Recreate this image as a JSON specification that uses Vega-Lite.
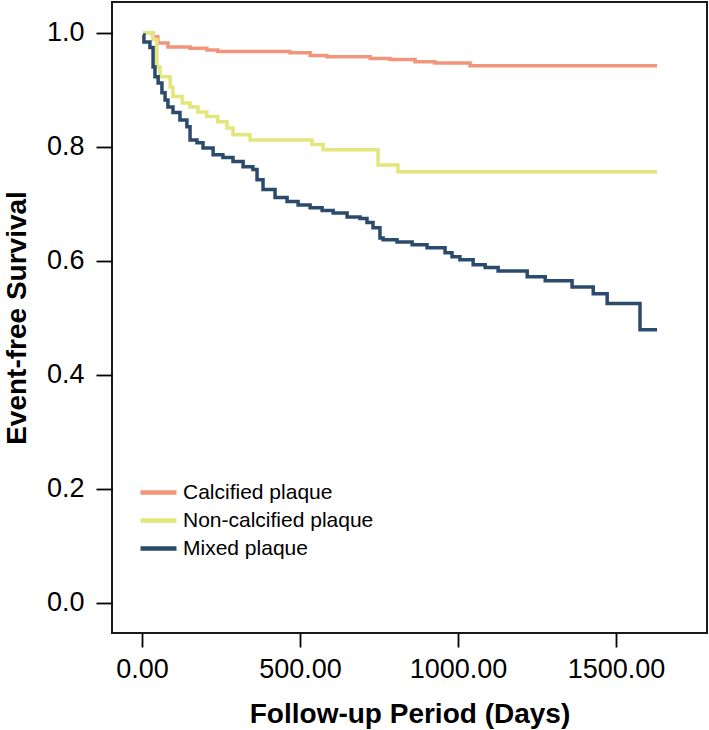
{
  "$schema": "https://vega.github.io/schema/vega-lite/v6.json",
  "width": 595,
  "height": 631,
  "autosize": "none",
  "padding": {"left": 112, "top": 2, "right": 2, "bottom": 97},
  "background": "white",
  "config": {
    "view": {"stroke": "#1a1a1a", "strokeWidth": 2},
    "font": "Liberation Sans",
    "axis": {
      "domain": false,
      "grid": false,
      "tickColor": "#000000",
      "tickWidth": 1.8,
      "labelFont": "Liberation Sans",
      "labelFontSize": 27,
      "labelColor": "#000000",
      "titleFont": "Liberation Sans",
      "titleFontSize": 28,
      "titleFontWeight": "bold",
      "titleColor": "#000000"
    },
    "legend": {
      "labelFont": "Liberation Sans",
      "labelFontSize": 21,
      "labelColor": "#000000",
      "labelLimit": 400
    }
  },
  "data": {
    "values": [
      {"group": "Calcified plaque", "days": 3, "surv": 1.0},
      {"group": "Calcified plaque", "days": 35, "surv": 0.993},
      {"group": "Calcified plaque", "days": 50, "surv": 0.982},
      {"group": "Calcified plaque", "days": 82, "surv": 0.975},
      {"group": "Calcified plaque", "days": 152, "surv": 0.973},
      {"group": "Calcified plaque", "days": 205, "surv": 0.970},
      {"group": "Calcified plaque", "days": 240, "surv": 0.967},
      {"group": "Calcified plaque", "days": 468, "surv": 0.965},
      {"group": "Calcified plaque", "days": 532, "surv": 0.960},
      {"group": "Calcified plaque", "days": 585, "surv": 0.958},
      {"group": "Calcified plaque", "days": 722, "surv": 0.955},
      {"group": "Calcified plaque", "days": 785, "surv": 0.953},
      {"group": "Calcified plaque", "days": 864, "surv": 0.949},
      {"group": "Calcified plaque", "days": 927, "surv": 0.947},
      {"group": "Calcified plaque", "days": 1038, "surv": 0.942},
      {"group": "Calcified plaque", "days": 1630, "surv": 0.942},

      {"group": "Non-calcified plaque", "days": 3, "surv": 1.0},
      {"group": "Non-calcified plaque", "days": 35, "surv": 0.988},
      {"group": "Non-calcified plaque", "days": 47, "surv": 0.940},
      {"group": "Non-calcified plaque", "days": 57, "surv": 0.923},
      {"group": "Non-calcified plaque", "days": 89, "surv": 0.905},
      {"group": "Non-calcified plaque", "days": 98, "surv": 0.888},
      {"group": "Non-calcified plaque", "days": 127, "surv": 0.877},
      {"group": "Non-calcified plaque", "days": 152, "surv": 0.870},
      {"group": "Non-calcified plaque", "days": 177, "surv": 0.861},
      {"group": "Non-calcified plaque", "days": 205, "surv": 0.853},
      {"group": "Non-calcified plaque", "days": 240, "surv": 0.844},
      {"group": "Non-calcified plaque", "days": 269, "surv": 0.833},
      {"group": "Non-calcified plaque", "days": 288, "surv": 0.821},
      {"group": "Non-calcified plaque", "days": 342, "surv": 0.812},
      {"group": "Non-calcified plaque", "days": 538, "surv": 0.804},
      {"group": "Non-calcified plaque", "days": 573, "surv": 0.795},
      {"group": "Non-calcified plaque", "days": 747, "surv": 0.768},
      {"group": "Non-calcified plaque", "days": 810, "surv": 0.756},
      {"group": "Non-calcified plaque", "days": 1630, "surv": 0.756},

      {"group": "Mixed plaque", "days": 3, "surv": 0.996},
      {"group": "Mixed plaque", "days": 6, "surv": 0.984},
      {"group": "Mixed plaque", "days": 25, "surv": 0.974},
      {"group": "Mixed plaque", "days": 35, "surv": 0.940},
      {"group": "Mixed plaque", "days": 41, "surv": 0.923},
      {"group": "Mixed plaque", "days": 51, "surv": 0.912},
      {"group": "Mixed plaque", "days": 63, "surv": 0.895},
      {"group": "Mixed plaque", "days": 73, "surv": 0.882},
      {"group": "Mixed plaque", "days": 82, "surv": 0.870},
      {"group": "Mixed plaque", "days": 98, "surv": 0.860},
      {"group": "Mixed plaque", "days": 120, "surv": 0.847},
      {"group": "Mixed plaque", "days": 142, "surv": 0.835},
      {"group": "Mixed plaque", "days": 152, "surv": 0.812},
      {"group": "Mixed plaque", "days": 174, "surv": 0.807},
      {"group": "Mixed plaque", "days": 193, "surv": 0.798},
      {"group": "Mixed plaque", "days": 225, "surv": 0.786},
      {"group": "Mixed plaque", "days": 256, "surv": 0.781},
      {"group": "Mixed plaque", "days": 288, "surv": 0.774},
      {"group": "Mixed plaque", "days": 320, "surv": 0.765},
      {"group": "Mixed plaque", "days": 351, "surv": 0.760},
      {"group": "Mixed plaque", "days": 364, "surv": 0.742},
      {"group": "Mixed plaque", "days": 383, "surv": 0.725},
      {"group": "Mixed plaque", "days": 421, "surv": 0.711},
      {"group": "Mixed plaque", "days": 459, "surv": 0.704},
      {"group": "Mixed plaque", "days": 494, "surv": 0.698},
      {"group": "Mixed plaque", "days": 532, "surv": 0.693},
      {"group": "Mixed plaque", "days": 570, "surv": 0.688},
      {"group": "Mixed plaque", "days": 605, "surv": 0.684},
      {"group": "Mixed plaque", "days": 649, "surv": 0.677},
      {"group": "Mixed plaque", "days": 690, "surv": 0.674},
      {"group": "Mixed plaque", "days": 712, "surv": 0.667},
      {"group": "Mixed plaque", "days": 731, "surv": 0.658},
      {"group": "Mixed plaque", "days": 753, "surv": 0.640},
      {"group": "Mixed plaque", "days": 763, "surv": 0.637},
      {"group": "Mixed plaque", "days": 807, "surv": 0.633},
      {"group": "Mixed plaque", "days": 855, "surv": 0.628},
      {"group": "Mixed plaque", "days": 902, "surv": 0.623},
      {"group": "Mixed plaque", "days": 959, "surv": 0.614},
      {"group": "Mixed plaque", "days": 981, "surv": 0.607},
      {"group": "Mixed plaque", "days": 1006, "surv": 0.602},
      {"group": "Mixed plaque", "days": 1048, "surv": 0.593},
      {"group": "Mixed plaque", "days": 1086, "surv": 0.588},
      {"group": "Mixed plaque", "days": 1127, "surv": 0.582},
      {"group": "Mixed plaque", "days": 1219, "surv": 0.572},
      {"group": "Mixed plaque", "days": 1276, "surv": 0.565},
      {"group": "Mixed plaque", "days": 1361, "surv": 0.554},
      {"group": "Mixed plaque", "days": 1428, "surv": 0.542},
      {"group": "Mixed plaque", "days": 1472, "surv": 0.525},
      {"group": "Mixed plaque", "days": 1576, "surv": 0.479},
      {"group": "Mixed plaque", "days": 1630, "surv": 0.479}
    ]
  },
  "mark": {"type": "line", "interpolate": "step-after", "strokeWidth": 3.5, "strokeJoin": "miter", "strokeCap": "butt"},
  "encoding": {
    "x": {
      "field": "days",
      "type": "quantitative",
      "scale": {"domain": [-95, 1788], "nice": false, "zero": false},
      "axis": {
        "title": "Follow-up Period (Days)",
        "values": [0, 500, 1000, 1500],
        "format": ".2f",
        "tickSize": 14,
        "labelPadding": 9,
        "titleBaseline": "alphabetic",
        "titleY": 89
      }
    },
    "y": {
      "field": "surv",
      "type": "quantitative",
      "scale": {"domain": [-0.053, 1.054], "nice": false, "zero": false},
      "axis": {
        "title": "Event-free Survival",
        "values": [0, 0.2, 0.4, 0.6, 0.8, 1.0],
        "format": ".1f",
        "tickSize": 16,
        "labelPadding": 12,
        "titleBaseline": "alphabetic",
        "titleX": -87
      }
    },
    "color": {
      "field": "group",
      "type": "nominal",
      "scale": {
        "domain": ["Calcified plaque", "Non-calcified plaque", "Mixed plaque"],
        "range": ["#f1957d", "#e3e67a", "#2b4b6c"]
      },
      "legend": {
        "title": null,
        "orient": "none",
        "legendX": 35,
        "legendY": 479,
        "symbolType": "M-2,0H2",
        "symbolSize": 324,
        "symbolStrokeWidth": 4.5,
        "labelOffset": 13,
        "rowPadding": 6
      }
    }
  }
}
